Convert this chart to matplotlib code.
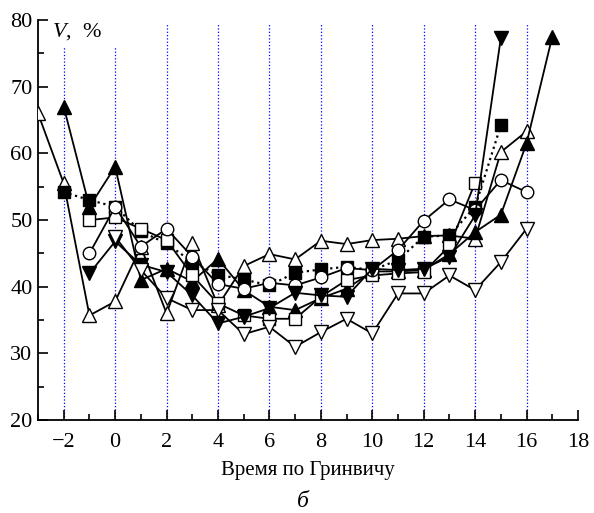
import matplotlib
matplotlib.use("Agg")
import matplotlib.pyplot as plt
from matplotlib.ticker import MultipleLocator

plt.rcParams['font.family'] = ['Liberation Serif', 'DejaVu Serif']
plt.rcParams['mathtext.fontset'] = 'custom'
plt.rcParams['mathtext.it'] = 'Liberation Serif:italic'
plt.rcParams['mathtext.rm'] = 'Liberation Serif'

# hours (UT) and V, % for each day's curve
hours_tri_open = [-3, -2, -1, 0, 1, 2, 3, 4, 5, 6, 7, 8, 9, 10, 11, 12, 13, 14, 15, 16]
v_tri_open = [66, 55.5, 35.7, 37.8, 46, 36, 46.5, 37.2, 43.1, 44.9, 44.1, 46.9, 46.4, 47, 47.2, 47.6, 47.7, 47.2, 60.2, 63.3]

hours_tri_fill = [-2, -1, 0, 1, 2, 3, 4, 5, 6, 7, 8, 9, 10, 11, 12, 13, 14, 15, 16, 17]
v_tri_fill = [67, 52, 58, 41, 42.7, 40.8, 44.2, 39.5, 37, 36.5, 38.3, 39.7, 42.3, 42.3, 42.5, 44.9, 48.2, 50.8, 61.5, 77.5]

hours_sq_fill = [-2, -1, 0, 1, 2, 3, 4, 5, 6, 7, 8, 9, 10, 11, 12, 13, 14, 15]
v_sq_fill = [54.2, 53, 52, 48.3, 46.5, 43.7, 41.8, 41.1, 40.2, 42.1, 42.6, 43, 42.5, 44, 47.5, 47.7, 52, 64.2]

hours_sq_open = [-1, 0, 1, 2, 3, 4, 5, 6, 7, 8, 9, 10, 11, 12, 13, 14]
v_sq_open = [50, 50.4, 48.7, 47, 41.7, 37.5, 35.7, 35.2, 35.2, 38.5, 41, 41.7, 42, 42.2, 46.1, 55.6]

hours_circ = [-1, 0, 1, 2, 3, 4, 5, 6, 7, 8, 9, 10, 11, 12, 13, 14, 15, 16]
v_circ = [45, 52, 46, 48.7, 44.5, 40.4, 39.7, 40.6, 40.2, 41.4, 42.8, 42.5, 45.5, 49.9, 53.1, 51.5, 56, 54.2]

hours_tri_down_fill = [-1, 0, 1, 2, 3, 4, 5, 6, 7, 8, 9, 10, 11, 12, 13, 14, 15]
v_tri_down_fill = [42, 46.8, 43.3, 42.2, 38.7, 34.5, 35.5, 36.8, 39.1, 38.7, 38.5, 42.7, 42.5, 42.7, 44.5, 50.7, 77.3]

hours_tri_down_open = [0, 1, 2, 3, 4, 5, 6, 7, 8, 9, 10, 11, 12, 13, 14, 15, 16]
v_tri_down_open = [47.5, 42.5, 38.3, 36.5, 36.5, 32.9, 34, 31, 33.2, 35.2, 33, 39, 39, 41.7, 39.5, 43.7, 48.7]

grid_hours = [-2, 0, 2, 4, 6, 8, 10, 12, 14, 16]
grid_tops = [76, 76, 79.4, 79.4, 79.4, 79.4, 79.4, 79.4, 79.4, 79.4]

fig = plt.figure(figsize=(5.94, 5.13), dpi=100)
ax = fig.add_axes([0.064, 0.181, 0.909, 0.78])

for h, top in zip(grid_hours, grid_tops):
    ax.plot([h, h], [20, top], color='blue', ls=':', lw=0.9, zorder=1)

ms = 10
lw = 1.3
ax.plot(hours_tri_open, v_tri_open, '-^', color='black', mfc='white', mec='black', ms=ms, lw=lw, zorder=3)
ax.plot(hours_tri_fill, v_tri_fill, '-^', color='black', mfc='black', ms=ms, lw=lw, zorder=3)
ax.plot(hours_sq_fill, v_sq_fill, ':s', color='black', mfc='black', ms=8, lw=1.6, zorder=3)
ax.plot(hours_sq_open, v_sq_open, '-s', color='black', mfc='white', mec='black', ms=8, lw=lw, zorder=3)
ax.plot(hours_circ, v_circ, '-o', color='black', mfc='white', mec='black', ms=9, lw=lw, zorder=3)
ax.plot(hours_tri_down_fill, v_tri_down_fill, '-v', color='black', mfc='black', ms=ms, lw=lw, zorder=3)
ax.plot(hours_tri_down_open, v_tri_down_open, '-v', color='black', mfc='white', mec='black', ms=ms, lw=lw, zorder=3)

ax.set_xlim(-3, 18)
ax.set_ylim(20, 80)
ax.xaxis.set_major_locator(MultipleLocator(2))
ax.xaxis.set_minor_locator(MultipleLocator(1))
ax.yaxis.set_major_locator(MultipleLocator(10))
ax.yaxis.set_minor_locator(MultipleLocator(5))
ax.tick_params(which='both', direction='in', labelsize=16, width=1.2)
ax.tick_params(which='major', length=7)
ax.tick_params(which='minor', length=4)
ax.tick_params(axis='x', pad=9)
ax.tick_params(axis='y', pad=4)
ax.spines['top'].set_visible(False)
ax.spines['right'].set_visible(False)
ax.spines['left'].set_linewidth(1.3)
ax.spines['bottom'].set_linewidth(1.3)

ax.text(-2.45, 78.3, '$V$,  %', fontsize=16, ha='left', va='center', zorder=4)

ax.set_xlabel('Время по Гринвичу', fontsize=15, labelpad=7)
fig.text(0.51, 0.012, 'б', fontsize=17, style='italic', ha='center')

fig.savefig('out.png', dpi=100)
